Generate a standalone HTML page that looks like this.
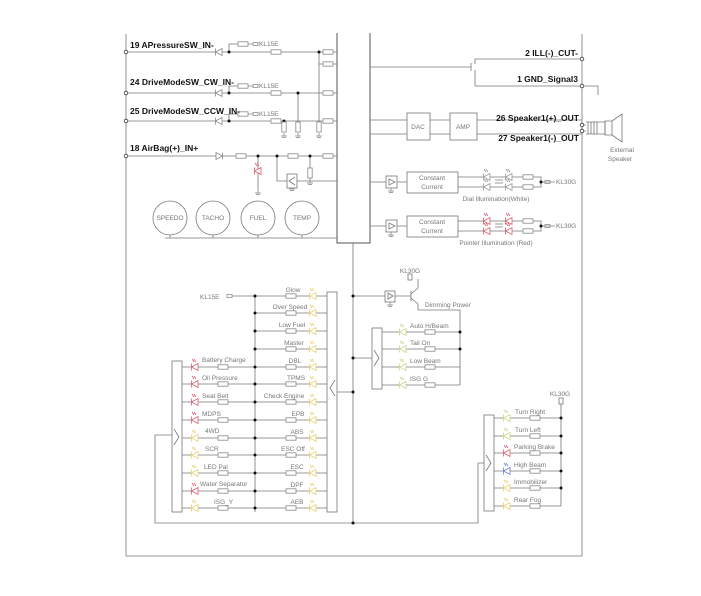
<!DOCTYPE html>
<html><head><meta charset="utf-8"><style>
html,body{margin:0;padding:0;background:#fff;}
svg{display:block;}
.b{font-family:"Liberation Sans",sans-serif;font-weight:bold;font-size:8.5px;fill:#111;}
.t{font-family:"Liberation Sans",sans-serif;font-size:6.5px;fill:#777;}
</style></head><body>
<svg width="701" height="596" viewBox="0 0 701 596" xmlns="http://www.w3.org/2000/svg">
<defs>
<g id="r"><rect x="-5" y="-2.2" width="10" height="4.4" fill="#fff" stroke="#888" stroke-width="0.8"/></g>
<g id="d" fill="#fff" stroke-width="0.8"><polygon points="-3.5,0 3,-3.5 3,3.5"/><line x1="-3.5" y1="-3.5" x2="-3.5" y2="3.5"/><path d="M-1,-5 l-2,-3 M1,-5 l-2,-3" fill="none"/></g>
<g id="df" fill="#fff" stroke="#888" stroke-width="0.8"><polygon points="-3.5,0 3,-3.5 3,3.5"/><line x1="-3.5" y1="-3.5" x2="-3.5" y2="3.5"/></g>
<g id="g" stroke="#888" stroke-width="0.8" fill="none"><line x1="0" y1="0" x2="0" y2="3"/><line x1="-3" y1="3" x2="3" y2="3"/><line x1="-2" y1="4.5" x2="2" y2="4.5"/></g>
<g id="k" stroke="#888" stroke-width="0.8" fill="none"><path d="M0,0 h5 M5,-1.5 h5 v3 h-5 z"/></g>
</defs>
<g stroke="#777" stroke-width="0.8" fill="none">
<path d="M126,34 V556 H582 V34"/>
<path d="M337,33 V243 H370 V33" stroke="#555" stroke-width="1"/>
<path d="M126,52 H337 M126,93 H337 M126,121 H337 M126,156 H337"/>
<path d="M229,52 V44 H238 M229,93 V86 H238 M229,121 V114 H238"/>
<path d="M319,52 V130 M319,64 H337 M298,93 V130 M284,121 V130"/>
<path d="M258,156 V190 M277,156 V181 H287 M297,181 H337 M310,156 V180"/>
<circle cx="170" cy="218" r="17"/><circle cx="213" cy="218" r="17"/><circle cx="258" cy="218" r="17"/><circle cx="302" cy="218" r="17"/>
<path d="M170,235 V238 M213,235 V238 M258,235 V238 M302,235 V238 M165,238 H337"/>
<path d="M370,67 H471 M471,63 V71 M475,59 H582 M475,86 H582 M475,59 V64 M475,70 V86 M582,86 H598 V95"/>
<path d="M370,120 H407 M370,134 H407 M430,120 H450 M430,134 H450 M477,120 H582 M477,134 H582 M582,125 H586 M582,131 H586"/>
<rect x="407" y="113" width="23" height="27"/><rect x="450" y="113" width="27" height="27"/>
<path d="M586,122 h19 v12 h-19 M588,122 v12 M591,122 v12 M594,122 v12 M597,122 v12"/>
<path d="M605,121 h7 v14 h-7 z M612,121 l10,-7 v28 l-10,-7"/>
<path d="M370,182 H386 M397,182 H407 M370,226 H386 M397,226 H407"/>
<rect x="386" y="176" width="11" height="12"/><rect x="386" y="220" width="11" height="12"/>
<path d="M389,179 l6,3 l-6,3 z M389,223 l6,3 l-6,3 z"/>
<rect x="407" y="172" width="51" height="21"/><rect x="407" y="216" width="51" height="21"/>
<path d="M458,177 H541 V187 H458 M458,221 H541 V231 H458 M541,182 H545 M541,226 H545 M495,180 h8 M495,183 h8 M495,224 h8 M495,227 h8"/>
<path d="M353,243 V523"/>
<path d="M353,296 H385 M395,296 H411 M411,291 V301 M411,294 L418,288 V279 M411,298 L418,304 V310 H460 V385"/>
<rect x="385" y="291" width="10" height="11"/><path d="M388,293 l5,3 l-5,3 z"/>
<rect x="408" y="274" width="4" height="6"/>
<path d="M353,358 H372 M382,332 H460 M382,349 H460 M382,367 H460 M382,385 H460"/>
<rect x="372" y="328" width="10" height="61"/><path d="M374,350 l5,8 l-5,8"/>
<path d="M353,523 H478 V463 H484 M494,418 H561 M494,436 H561 M494,453 H561 M494,471 H561 M494,488 H561 M494,506 H561 M561,404 V506"/>
<rect x="484" y="415" width="10" height="96"/><path d="M486,455 l5,8 l-5,8"/>
<rect x="559" y="398" width="4" height="6"/>
<path d="M255,296 V512 M232,296 H327 M337,392 H353"/>
<path d="M255,313 H327 M255,331 H327 M255,349 H327 M255,367 H327 M255,384 H327 M255,402 H327 M255,420 H327 M255,438 H327 M255,455 H327 M255,473 H327 M255,491 H327 M255,508 H327"/>
<path d="M182,367 H255 M182,384 H255 M182,402 H255 M182,420 H255 M182,438 H255 M182,455 H255 M182,473 H255 M182,491 H255 M182,508 H255"/>
<rect x="327" y="292" width="10" height="220"/><path d="M335,380 l-5,8 l5,8"/>
<rect x="172" y="361" width="10" height="151"/><path d="M174,429 l5,8 l-5,8"/>
<path d="M172,435 H155 V523 H353"/>
</g>
<g fill="#111">
<circle cx="229" cy="52" r="1.5"/><circle cx="319" cy="52" r="1.5"/><circle cx="229" cy="93" r="1.5"/><circle cx="298" cy="93" r="1.5"/><circle cx="229" cy="121" r="1.5"/><circle cx="284" cy="121" r="1.5"/>
<circle cx="258" cy="156" r="1.5"/><circle cx="277" cy="156" r="1.5"/><circle cx="310" cy="156" r="1.5"/>
<circle cx="541" cy="182" r="1.5"/><circle cx="541" cy="226" r="1.5"/>
<circle cx="353" cy="296" r="1.5"/><circle cx="353" cy="358" r="1.5"/><circle cx="353" cy="392" r="1.5"/><circle cx="353" cy="523" r="1.5"/>
<circle cx="460" cy="332" r="1.5"/><circle cx="460" cy="349" r="1.5"/>
<circle cx="561" cy="418" r="1.5"/><circle cx="561" cy="436" r="1.5"/><circle cx="561" cy="453" r="1.5"/><circle cx="561" cy="471" r="1.5"/><circle cx="561" cy="488" r="1.5"/>
<circle cx="255" cy="296" r="1.5"/><circle cx="255" cy="313" r="1.5"/><circle cx="255" cy="331" r="1.5"/><circle cx="255" cy="349" r="1.5"/><circle cx="255" cy="367" r="1.5"/><circle cx="255" cy="384" r="1.5"/><circle cx="255" cy="402" r="1.5"/><circle cx="255" cy="420" r="1.5"/><circle cx="255" cy="438" r="1.5"/><circle cx="255" cy="455" r="1.5"/><circle cx="255" cy="473" r="1.5"/><circle cx="255" cy="491" r="1.5"/><circle cx="255" cy="508" r="1.5"/>
</g>
<g fill="#fff" stroke="#333" stroke-width="0.8">
<circle cx="126" cy="52" r="1.8"/><circle cx="126" cy="93" r="1.8"/><circle cx="126" cy="121" r="1.8"/><circle cx="126" cy="156" r="1.8"/>
<circle cx="582" cy="59" r="1.8"/><circle cx="582" cy="86" r="1.8"/><circle cx="582" cy="125" r="1.8"/><circle cx="582" cy="131" r="1.8"/>
</g>
<g>
<use href="#r" x="276" y="52"/><use href="#r" x="328" y="52"/><use href="#r" x="328" y="64"/><use href="#r" x="243" y="44"/>
<use href="#r" x="276" y="93"/><use href="#r" x="328" y="93"/><use href="#r" x="243" y="86"/>
<use href="#r" x="276" y="121"/><use href="#r" x="328" y="121"/><use href="#r" x="243" y="114"/>
<use href="#r" x="241" y="156"/><use href="#r" x="293" y="156"/><use href="#r" x="328" y="156"/>
<use href="#r" x="528" y="177"/><use href="#r" x="528" y="187"/><use href="#r" x="528" y="221"/><use href="#r" x="528" y="231"/>
<use href="#r" x="430" y="332"/><use href="#r" x="430" y="349"/><use href="#r" x="430" y="367"/><use href="#r" x="430" y="385"/>
<use href="#r" x="535" y="418"/><use href="#r" x="535" y="436"/><use href="#r" x="535" y="453"/><use href="#r" x="535" y="471"/><use href="#r" x="535" y="488"/><use href="#r" x="535" y="506"/>
<use href="#r" x="291" y="296"/><use href="#r" x="291" y="313"/><use href="#r" x="291" y="331"/><use href="#r" x="291" y="349"/><use href="#r" x="291" y="367"/><use href="#r" x="291" y="384"/><use href="#r" x="291" y="402"/><use href="#r" x="291" y="420"/><use href="#r" x="291" y="438"/><use href="#r" x="291" y="455"/><use href="#r" x="291" y="473"/><use href="#r" x="291" y="491"/><use href="#r" x="291" y="508"/>
<use href="#r" x="223" y="367"/><use href="#r" x="223" y="384"/><use href="#r" x="223" y="402"/><use href="#r" x="223" y="420"/><use href="#r" x="223" y="438"/><use href="#r" x="223" y="455"/><use href="#r" x="223" y="473"/><use href="#r" x="223" y="491"/><use href="#r" x="223" y="508"/>
</g>
<g transform="rotate(90)">
<use href="#r" x="127" y="-319"/><use href="#r" x="127" y="-298"/><use href="#r" x="127" y="-284"/><use href="#r" x="173" y="-310"/>
</g>
<use href="#g" x="319" y="133"/><use href="#g" x="298" y="133"/><use href="#g" x="284" y="133"/><use href="#g" x="310" y="180"/><use href="#g" x="258" y="190"/><use href="#g" x="292" y="186"/>
<use href="#g" x="391" y="188"/><use href="#g" x="391" y="232"/><use href="#g" x="390" y="302"/>
<rect x="287" y="174" width="10" height="14" fill="#fff" stroke="#777" stroke-width="0.8"/><path d="M295,177 l-6,4 l6,4" fill="none" stroke="#777" stroke-width="0.8"/>
<use href="#k" x="248" y="44"/><use href="#k" x="248" y="86"/><use href="#k" x="248" y="114"/>
<path d="M545,182 h10 M545,226 h10 M545,180.5 h5 v3 h-5 z M545,224.5 h5 v3 h-5 z" fill="none" stroke="#888" stroke-width="0.8"/>
<path d="M227,294.5 h5 v3 h-5 z" fill="none" stroke="#888" stroke-width="0.8"/>
<use href="#df" x="219" y="52"/><use href="#df" x="219" y="93"/><use href="#df" x="219" y="121"/>
<g transform="translate(219,156) scale(-1,1)"><use href="#df"/></g>
<use href="#d" x="258" y="171" stroke="#e05a6a"/>
<g stroke="#999"><use href="#d" x="487" y="177"/><use href="#d" x="487" y="187"/><use href="#d" x="509" y="177"/><use href="#d" x="509" y="187"/></g>
<g stroke="#e05a6a"><use href="#d" x="487" y="221"/><use href="#d" x="487" y="231"/><use href="#d" x="509" y="221"/><use href="#d" x="509" y="231"/></g>
<g stroke="#c8d88a"><use href="#d" x="403" y="332"/><use href="#d" x="403" y="349"/><use href="#d" x="403" y="367"/><use href="#d" x="403" y="385"/><use href="#d" x="507" y="418"/><use href="#d" x="507" y="436"/></g>
<use href="#d" x="507" y="453" stroke="#e05a6a"/><use href="#d" x="507" y="471" stroke="#6a7ad8"/>
<g stroke="#e8d070"><use href="#d" x="507" y="488"/><use href="#d" x="507" y="506"/></g>
<g stroke="#e8d070">
<use href="#d" x="313" y="296"/><use href="#d" x="313" y="313"/><use href="#d" x="313" y="331"/><use href="#d" x="313" y="349"/><use href="#d" x="313" y="367"/><use href="#d" x="313" y="384"/><use href="#d" x="313" y="402"/><use href="#d" x="313" y="420"/><use href="#d" x="313" y="438"/><use href="#d" x="313" y="455"/><use href="#d" x="313" y="473"/><use href="#d" x="313" y="491"/><use href="#d" x="313" y="508"/>
<use href="#d" x="195" y="438"/><use href="#d" x="195" y="455"/><use href="#d" x="195" y="473"/><use href="#d" x="195" y="508"/>
</g>
<g stroke="#e05a6a"><use href="#d" x="195" y="367"/><use href="#d" x="195" y="384"/><use href="#d" x="195" y="402"/><use href="#d" x="195" y="420"/><use href="#d" x="195" y="491"/></g>
<text class="b" x="130" y="48">19 APressureSW_IN-</text>
<text class="b" x="130" y="85">24 DriveModeSW_CW_IN-</text>
<text class="b" x="130" y="114">25 DriveModeSW_CCW_IN-</text>
<text class="b" x="130" y="151">18 AirBag(+)_IN+</text>
<text class="b" x="578" y="56" text-anchor="end">2 ILL(-)_CUT-</text>
<text class="b" x="578" y="82" text-anchor="end">1 GND_Signal3</text>
<text class="b" x="579" y="121" text-anchor="end">26 Speaker1(+)_OUT</text>
<text class="b" x="579" y="141" text-anchor="end">27 Speaker1(-)_OUT</text>
<g class="t">
<text x="259" y="46">KL15E</text><text x="259" y="88">KL15E</text><text x="259" y="116">KL15E</text>
<text x="170" y="220" text-anchor="middle">SPEEDO</text><text x="213" y="220" text-anchor="middle">TACHO</text><text x="258" y="220" text-anchor="middle">FUEL</text><text x="302" y="220" text-anchor="middle">TEMP</text>
<text x="418" y="129" text-anchor="middle">DAC</text><text x="463" y="129" text-anchor="middle">AMP</text>
<text x="622" y="152" text-anchor="middle">External</text><text x="620" y="161" text-anchor="middle">Speaker</text>
<text x="432" y="180" text-anchor="middle">Constant</text><text x="432" y="189" text-anchor="middle">Current</text>
<text x="432" y="224" text-anchor="middle">Constant</text><text x="432" y="233" text-anchor="middle">Current</text>
<text x="496" y="201" text-anchor="middle">Dial Illumination(White)</text>
<text x="496" y="245" text-anchor="middle">Pointer Illumination (Red)</text>
<text x="556" y="184">KL30G</text><text x="556" y="228">KL30G</text>
<text x="410" y="273" text-anchor="middle">KL30G</text><text x="425" y="307">Dimming Power</text>
<text x="560" y="396" text-anchor="middle">KL30G</text>
<text x="410" y="328">Auto H/Beam</text><text x="410" y="345">Tail On</text><text x="410" y="363">Low Beam</text><text x="410" y="381">ISG G</text>
<text x="515" y="414">Turn Right</text><text x="515" y="432">Turn Left</text><text x="514" y="449">Parking Brake</text><text x="514" y="467">High Beam</text><text x="514" y="484">Immobilizer</text><text x="514" y="502">Rear Fog</text>
<text x="200" y="299">KL15E</text>
<text x="293" y="292" text-anchor="middle">Glow</text><text x="290" y="309" text-anchor="middle">Over Speed</text><text x="292" y="327" text-anchor="middle">Low Fuel</text><text x="294" y="345" text-anchor="middle">Master</text><text x="295" y="363" text-anchor="middle">DBL</text><text x="296" y="380" text-anchor="middle">TPMS</text><text x="284" y="398" text-anchor="middle">Check Engine</text><text x="298" y="416" text-anchor="middle">EPB</text><text x="297" y="434" text-anchor="middle">ABS</text><text x="293" y="451" text-anchor="middle">ESC Off</text><text x="297" y="469" text-anchor="middle">ESC</text><text x="297" y="487" text-anchor="middle">DPF</text><text x="297" y="504" text-anchor="middle">AEB</text>
<text x="202" y="362">Battery Charge</text><text x="202" y="380">Oil Pressure</text><text x="202" y="398">Seat Belt</text><text x="202" y="416">MDPS</text><text x="205" y="433">4WD</text><text x="205" y="451">SCR</text><text x="204" y="469">LED Pal</text><text x="200" y="486">Water Separator</text><text x="214" y="504">ISG_Y</text>
</g>
</svg>
</body></html>
